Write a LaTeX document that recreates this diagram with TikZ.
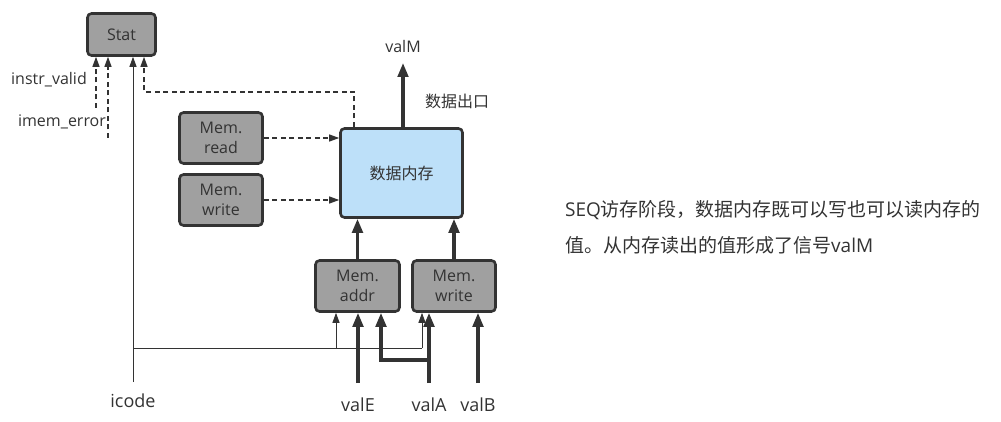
\documentclass[tikz,border=0pt]{standalone}
\usepackage{fontspec}
\setmainfont{Open Sans}
\newfontfamily\cjk{Noto Sans CJK SC}
\usetikzlibrary{arrows.meta}
\definecolor{ink}{HTML}{333333}
\definecolor{boxgray}{HTML}{A0A0A0}
\definecolor{memblue}{HTML}{BDE0F9}
\begin{document}
\begin{tikzpicture}[x=1pt,y=-1pt,
  unit/.style={draw=ink, fill=boxgray, line width=2.6pt, rounded corners=4pt, inner sep=0pt,
    font=\fontsize{16}{20}\selectfont, text=ink, align=center},
  thinarrow/.style={draw=ink, line width=1pt, -{Triangle[width=7pt,length=10pt]}},
  ctl/.style={draw=ink, line width=1.3pt, dash pattern=on 5pt off 3.5pt, -{Triangle[width=7pt,length=10pt]}},
  bus/.style={draw=ink, line width=3.2pt, -{Triangle[width=10.5pt,length=14pt]}},
  lbl/.style={text=ink, inner sep=0pt, font=\fontsize{16}{20}\selectfont},
  biglbl/.style={text=ink, inner sep=0pt, font=\fontsize{18}{22}\selectfont}
]
\useasboundingbox (0,0) rectangle (1001,422);

% boxes
\node[unit, minimum width=68pt, minimum height=42pt] (stat) at (121.5,34.5) {Stat};
\node[unit, minimum width=83pt, minimum height=51pt] (rd) at (221,138) {Mem.\\read};
\node[unit, minimum width=83pt, minimum height=51pt] (wrl) at (221,200) {Mem.\\write};
\node[unit, fill=memblue, minimum width=122pt, minimum height=89pt] (mem) at (401.5,173) {{\cjk 数据内存}};
\node[unit, minimum width=84pt, minimum height=51pt] (addr) at (357.5,286) {Mem.\\addr};
\node[unit, minimum width=83pt, minimum height=51pt] (wr) at (454,286) {Mem.\\write};

% labels
\node[lbl] (lIV) at (49,80) {instr\_valid};
\node[lbl] (lIE) at (62,122) {imem\_error};
\node[lbl] (lvalM) at (403,47) {valM};
\node[lbl] (lout) at (457,101) {{\cjk 数据出口}};
\node[biglbl] (licode) at (133,401) {icode};
\node[biglbl] (lvalE) at (358,405) {valE};
\node[biglbl] (lvalA) at (429,405) {valA};
\node[biglbl] (lvalB) at (478,405) {valB};
\node[biglbl, anchor=west, font=\fontsize{19}{22}\selectfont] (t1) at (565,210) {SEQ{\cjk 访存阶段，数据内存既可以写也可以读内存的}};
\node[biglbl, anchor=west, font=\fontsize{19}{22}\selectfont] (t2) at (565,245) {{\cjk 值。从内存读出的值形成了信号}valM};

% coordinates
\coordinate (iv) at (96,108);
\coordinate (ie) at (108,138);
\coordinate (ic) at (133,382);
\coordinate (j) at (133,348);
\coordinate (ja) at (336,348);
\coordinate (jw) at (422,348);
\coordinate (vE) at (358,383);
\coordinate (vA) at (429,383);
\coordinate (vAj) at (429,360);
\coordinate (aa) at (381,360);
\coordinate (vB) at (478,383);
\coordinate (m1) at (354,127);
\coordinate (c2) at (144,92);
\coordinate (vMtop) at (403,63);
\coordinate (vMbot) at (403,127);

% control to Stat
\draw[ctl] (iv) -- (iv |- stat.south);
\draw[ctl] (ie) -- (ie |- stat.south);
\draw[thinarrow] (ic) -- (ic |- stat.south);
\draw[ctl] (m1) |- (c2) -- (c2 |- stat.south);

% read/write control
\draw[ctl] (rd.east) -- (rd.east -| mem.west);
\draw[ctl] (wrl.east) -- (wrl.east -| mem.west);

% icode branch
\draw[draw=ink, line width=1pt] (j) -- (jw);
\draw[thinarrow] (ja) -- (ja |- addr.south);
\draw[thinarrow] (jw) -- (jw |- wr.south);

% data buses
\draw[bus] (vE) -- (vE |- addr.south);
\draw[bus] (vA) -- (vA |- wr.south);
\draw[bus] (vAj) -- (aa) -- (aa |- addr.south);
\draw[bus] (vB) -- (vB |- wr.south);
\draw[bus] (addr.north) -- (addr.north |- mem.south);
\draw[bus] (wr.north) -- (wr.north |- mem.south);
\draw[bus] (vMbot) -- (vMtop);
\end{tikzpicture}
\end{document}
